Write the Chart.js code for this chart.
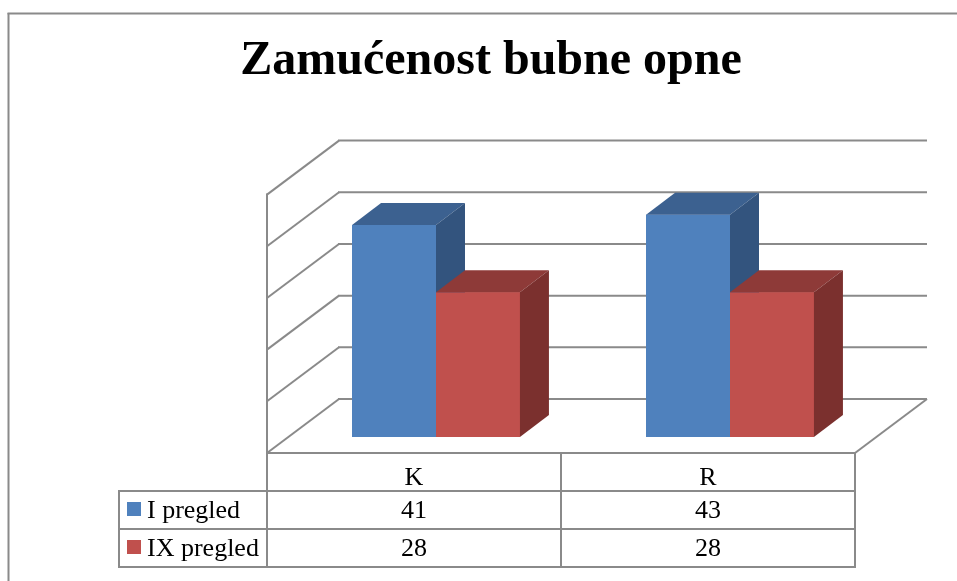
<!DOCTYPE html>
<html>
<head>
<meta charset="utf-8">
<script src="https://cdn.jsdelivr.net/npm/chart.js@4/dist/chart.umd.min.js"></script>
<style>
  html, body { margin: 0; padding: 0; background: #fff; }
  canvas { display: block; }
</style>
</head>
<body>
<canvas id="c" width="957" height="581"></canvas>
<script>
// Chart data
const categories = ['K', 'R'];
const seriesNames = ['I pregled', 'IX pregled'];
const firstExam = [41, 43];
const ninthExam = [28, 28];
const yMin = 0;
const yMax = 50;
const yStep = 10;

const SERIF = "'Liberation Serif', 'Times New Roman', serif";
const LINE = '#8a8a8a';

// Oblique projection offsets relative to the plane the bar fronts sit in
const FRONT = { dx: -22, dy: 16 };   // front edge of floor / left wall
const BACK = { dx: 50, dy: -38 };    // back wall plane
const DEPTH = { dx: 29, dy: -22 };   // bar depth

function line(ctx, x1, y1, x2, y2) {
  ctx.beginPath();
  ctx.moveTo(x1, y1);
  ctx.lineTo(x2, y2);
  ctx.stroke();
}

function poly(ctx, pts, color) {
  ctx.beginPath();
  ctx.moveTo(pts[0][0], pts[0][1]);
  for (let i = 1; i < pts.length; i++) ctx.lineTo(pts[i][0], pts[i][1]);
  ctx.closePath();
  ctx.fillStyle = color;
  ctx.fill();
}

// Walls, floor and gridlines
const wallsPlugin = {
  id: 'walls',
  beforeDatasetsDraw(chart) {
    const { ctx, chartArea: a, scales } = chart;
    const ys = scales.y;
    ctx.save();
    ctx.strokeStyle = LINE;
    ctx.lineWidth = 2;
    ctx.lineCap = 'butt';

    const fl = a.left + FRONT.dx, fr = a.right + FRONT.dx;
    const bl = a.left + BACK.dx, br = a.right + BACK.dx;

    // gridlines: left wall diagonals + back wall horizontals
    ys.ticks.forEach(t => {
      const y = ys.getPixelForValue(t.value);
      line(ctx, fl, y + FRONT.dy, bl, y + BACK.dy);
      line(ctx, bl - 1, y + BACK.dy, br, y + BACK.dy);
    });

    // left wall front edge
    const y0 = ys.getPixelForValue(yMin);
    const yTop = ys.getPixelForValue(yMax);
    line(ctx, fl, yTop + FRONT.dy - 1, fl, y0 + FRONT.dy);
    // floor front and right edges
    line(ctx, fl, y0 + FRONT.dy, fr, y0 + FRONT.dy);
    line(ctx, fr, y0 + FRONT.dy, br, y0 + BACK.dy);
    ctx.restore();
  }
};

// Bars as boxes: front face (the bar element itself), then top and side faces,
// series by series so that later series sit in front of earlier ones
const bar3dPlugin = {
  id: 'bar3d',
  afterDatasetsDraw(chart) {
    const { ctx, chartArea: a } = chart;
    ctx.save();
    chart.data.datasets.forEach((ds, i) => {
      const meta = chart.getDatasetMeta(i);
      meta.data.forEach(bar => {
        bar.draw(ctx, a);
        const p = bar.getProps(['x', 'y', 'base', 'width'], true);
        const l = p.x - p.width / 2, r = p.x + p.width / 2;
        poly(ctx, [[l, p.y], [r, p.y], [r + DEPTH.dx, p.y + DEPTH.dy], [l + DEPTH.dx, p.y + DEPTH.dy]], ds.topColor);
        poly(ctx, [[r, p.y], [r + DEPTH.dx, p.y + DEPTH.dy], [r + DEPTH.dx, p.base + DEPTH.dy], [r, p.base]], ds.sideColor);
      });
    });
    ctx.restore();
  }
};

// Outer frame and data table under the plot
const tablePlugin = {
  id: 'dataTable',
  beforeDraw(chart) {
    const { ctx, width, height } = chart;
    ctx.save();
    ctx.fillStyle = '#fff';
    ctx.fillRect(0, 0, width, height);
    ctx.strokeStyle = LINE;
    ctx.lineWidth = 2;
    line(ctx, 8.5, 13, 8.5, height);
    line(ctx, 7.5, 13.5, width, 13.5);
    ctx.restore();
  },
  afterDraw(chart) {
    const { ctx, chartArea: a, scales } = chart;
    const xs = scales.x, ys = scales.y;
    const top = ys.getPixelForValue(yMin) + FRONT.dy;
    const rowH = 38;
    const r1 = top + rowH, r2 = r1 + rowH, r3 = r2 + rowH;
    const labelLeft = 119;
    const colW = (a.right - a.left) / categories.length;
    const edges = [];
    for (let i = 0; i <= categories.length; i++) edges.push(a.left + FRONT.dx + i * colW);

    ctx.save();
    ctx.strokeStyle = LINE;
    ctx.lineWidth = 2;
    edges.forEach(x => line(ctx, x, top, x, r3 + 1));
    line(ctx, labelLeft, r1, labelLeft, r3 + 1);
    [r1, r2, r3].forEach(y => line(ctx, labelLeft - 1, y, edges[edges.length - 1] + 1, y));

    ctx.fillStyle = '#000';
    ctx.font = '26px ' + SERIF;
    ctx.textAlign = 'center';
    ctx.textBaseline = 'alphabetic';
    const series = [firstExam, ninthExam];
    categories.forEach((c, i) => {
      const cx = xs.getPixelForValue(i) + FRONT.dx;
      ctx.fillText(c, cx, top + 32);
      series.forEach((vals, s) => {
        ctx.fillText(String(vals[i]), cx, r1 + s * rowH + 26.5);
      });
    });

    ctx.textAlign = 'left';
    chart.data.datasets.forEach((ds, s) => {
      const rowTop = r1 + s * rowH;
      ctx.fillStyle = ds.backgroundColor;
      ctx.fillRect(127, rowTop + 11, 14, 14);
      ctx.fillStyle = '#000';
      ctx.fillText(seriesNames[s], 147, rowTop + 26.5);
    });
    ctx.restore();
  }
};

new Chart(document.getElementById('c'), {
  type: 'bar',
  data: {
    labels: categories,
    datasets: [
      { label: seriesNames[0], data: firstExam, backgroundColor: '#4F81BD', topColor: '#3C6190', sideColor: '#33547E', borderWidth: 0 },
      { label: seriesNames[1], data: ninthExam, backgroundColor: '#C0504D', topColor: '#8E3A38', sideColor: '#7B302E', borderWidth: 0 }
    ]
  },
  options: {
    responsive: false,
    animation: false,
    devicePixelRatio: 1,
    layout: { padding: { left: 105, right: 80, top: 0, bottom: 144 } },
    datasets: { bar: { categoryPercentage: 0.571, barPercentage: 1 } },
    plugins: {
      legend: { display: false },
      tooltip: { enabled: false },
      title: {
        display: true,
        text: 'Zamućenost bubne opne',
        color: '#000',
        font: { family: SERIF, size: 48, weight: 'bold', lineHeight: 1.2 },
        padding: { top: 33, bottom: 88 }
      }
    },
    scales: {
      x: { display: false },
      y: {
        display: true,
        min: yMin,
        max: yMax,
        ticks: { stepSize: yStep, display: false },
        grid: { display: false },
        border: { display: false },
        afterFit: s => { s.width = 184; }
      }
    }
  },
  plugins: [tablePlugin, wallsPlugin, bar3dPlugin]
});
</script>
</body>
</html>
